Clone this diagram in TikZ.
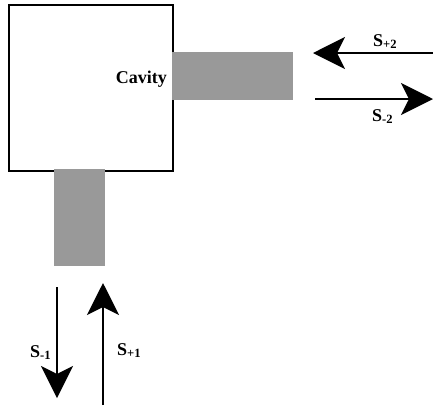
\documentclass[tikz,border=0pt]{standalone}
\usepackage{fontspec}
\setmainfont{Liberation Serif}
\usetikzlibrary{arrows.meta,positioning}
\definecolor{guidegray}{RGB}{153,153,153}

\begin{document}
\begin{tikzpicture}[x=1pt,y=-1pt,>=Stealth,
    wall/.style={draw=black,line width=2pt,minimum width=164pt,minimum height=166pt,inner sep=0pt},
    guide/.style={fill=guidegray,inner sep=0pt},
    wave/.style={line width=2pt,-{Stealth[length=32pt,width=32pt,inset=8pt]}},
    lab/.style={font=\fontsize{18}{20}\selectfont\bfseries,inner sep=0pt}]
  \useasboundingbox (0,0) rectangle (433,408);
  % cavity and the two guides
  \node[wall] (cavity) at (91,88) {};
  \node[guide,minimum width=121pt,minimum height=48pt,anchor=north west] (port2) at (172,52) {};
  \node[guide,minimum width=51pt,minimum height=97pt,anchor=north west] (port1) at (54,169) {};
  \node[lab,anchor=base east] (name) at (167,83) {Cavity};
  % waves at port 2
  \coordinate (in2s) at (433,53);
  \coordinate (in2e) at (313,53);
  \coordinate (out2s) at (315,99);
  \coordinate (out2e) at (433,99);
  \draw[wave] (in2s)--(in2e);
  \draw[wave] (out2s)--(out2e);
  \node[lab,anchor=base west] (sp2) at (373,46) {S\textsubscript{+2}};
  \node[lab,anchor=base west] (sm2) at (372,121) {S\textsubscript{-2}};
  % waves at port 1
  \coordinate (out1s) at (57,287);
  \coordinate (out1e) at (57,398);
  \coordinate (in1s) at (103,405);
  \coordinate (in1e) at (103,283);
  \draw[wave] (out1s)--(out1e);
  \draw[wave] (in1s)--(in1e);
  \node[lab,anchor=base west] (sm1) at (30,357) {S\textsubscript{-1}};
  \node[lab,anchor=base west] (sp1) at (117,355) {S\textsubscript{+1}};
\end{tikzpicture}
\end{document}
